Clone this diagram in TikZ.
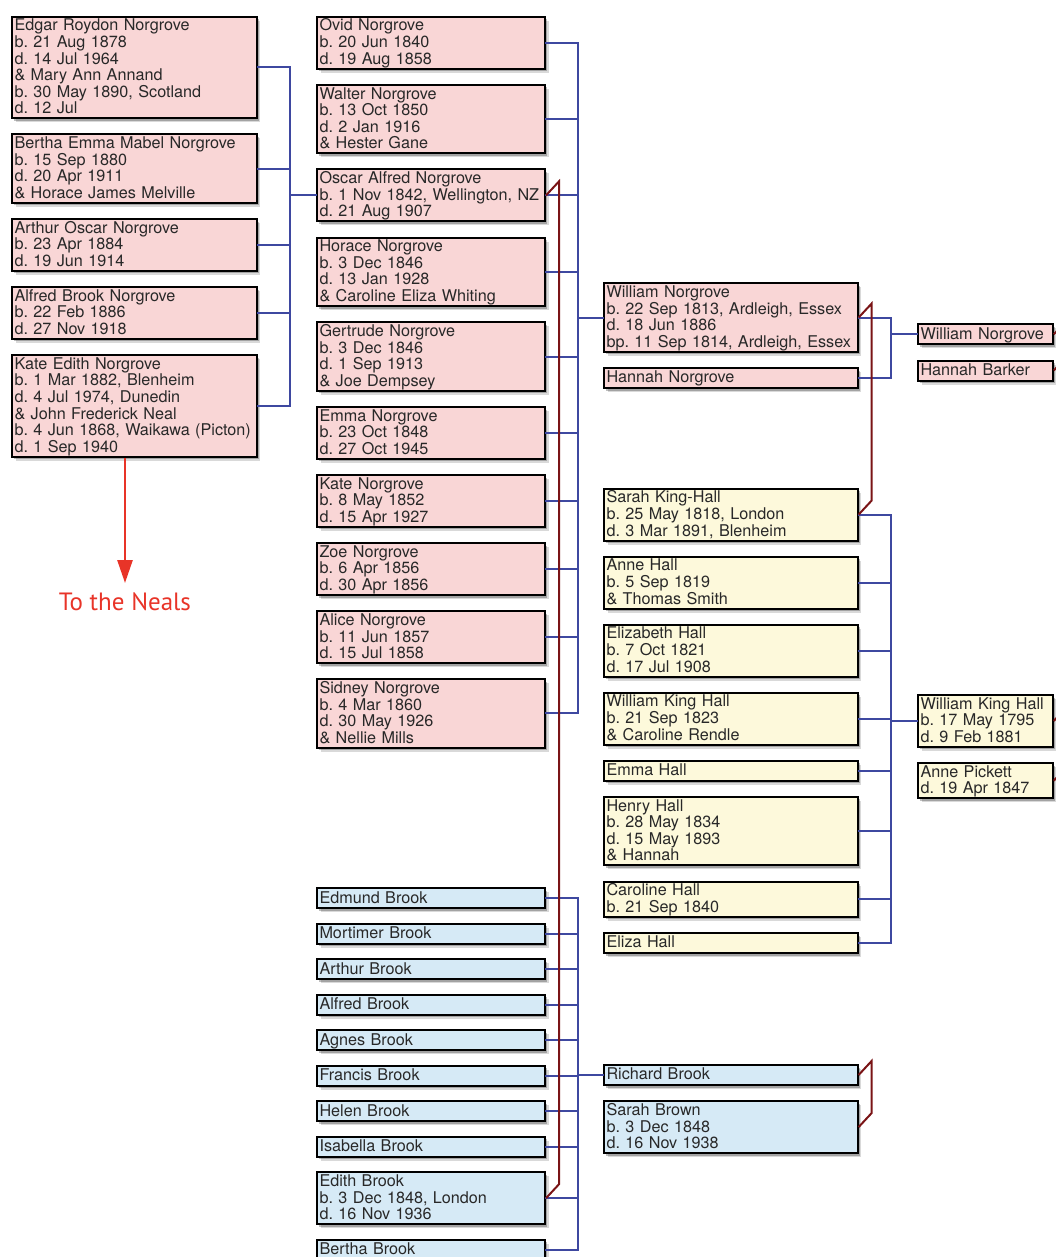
\documentclass[tikz,border=0pt]{standalone}
\usepackage{fontspec}
\setmainfont{TeX Gyre Heros}
\newfontfamily\nealsfont{PT Sans}
\usetikzlibrary{positioning, shadows, arrows.meta}
\frenchspacing
\hyphenpenalty=10000
\exhyphenpenalty=10000

\definecolor{ink}{RGB}{40,40,40}
\definecolor{pinkbox}{RGB}{249,214,214}
\definecolor{creambox}{RGB}{253,249,219}
\definecolor{skybox}{RGB}{214,234,246}
\definecolor{kinblue}{RGB}{62,72,160}
\definecolor{spousered}{RGB}{122,20,22}
\definecolor{nealsred}{RGB}{232,52,40}

\newcommand{\topstrut}{\rule{0pt}{13.2pt}}
\newcommand{\bottomstrut}{\rule[-3.4pt]{0pt}{3.4pt}}

\tikzstyle{Person} = [
draw=black, line width=2pt, text=ink, align=left,
inner xsep=2.5pt, inner ysep=1pt, minimum height=20pt,
font=\fontsize{16.2}{16.6}\selectfont,
execute at begin node=\topstrut, execute at end node=\bottomstrut,
drop shadow={shadow xshift=3.5pt, shadow yshift=-4pt, opacity=.15, fill=black},
drop shadow={shadow xshift=2pt, shadow yshift=-2.5pt, opacity=.25, fill=black}]
\tikzstyle{Pink} = [fill=pinkbox]
\tikzstyle{Cream} = [fill=creambox]
\tikzstyle{Sky} = [fill=skybox]
\tikzstyle{ColOne} = [text width=239.7pt]
\tikzstyle{ColTwo} = [text width=223pt]
\tikzstyle{ColThree} = [text width=248.6pt]
\tikzstyle{ColFour} = [text width=129.8pt]
\tikzstyle{Kin} = [draw=kinblue, line width=2pt, line cap=rect]
\tikzstyle{Spouse} = [draw=spousered, line width=2pt]
\tikzstyle{Neals} = [text=nealsred, font=\nealsfont\fontsize{25}{30}\selectfont,
anchor=base, inner sep=9pt]
\tikzstyle{ToNeals} = [draw=nealsred, line width=2.6pt,
-{Triangle[length=23pt, width=15pt]}]

\begin{document}
\begin{tikzpicture}[x=1pt, y=-1pt, node distance=14.2pt]
    \useasboundingbox (0,0) rectangle (1056,1257);
    % grandchildren
    \node [Person, Pink, ColOne, anchor=north west] (edgar) at (11,15.7) {Edgar Roydon Norgrove\\b. 21 Aug 1878\\d. 14 Jul 1964\\\& Mary Ann Annand\\b. 30 May 1890, Scotland\\d. 12 Jul};
    \node [Person, Pink, ColOne, below =of edgar] (bertha) {Bertha Emma Mabel Norgrove\\b. 15 Sep 1880\\d. 20 Apr 1911\\\& Horace James Melville};
    \node [Person, Pink, ColOne, below =of bertha] (arthur) {Arthur Oscar Norgrove\\b. 23 Apr 1884\\d. 19 Jun 1914};
    \node [Person, Pink, ColOne, below =of arthur] (alfred) {Alfred Brook Norgrove\\b. 22 Feb 1886\\d. 27 Nov 1918};
    \node [Person, Pink, ColOne, below =of alfred] (kateedith) {Kate Edith Norgrove\\b. 1 Mar 1882, Blenheim\\d. 4 Jul 1974, Dunedin\\\& John Frederick Neal\\b. 4 Jun 1868, Waikawa (Picton)\\d. 1 Sep 1940};
    \node [Neals] (neals) at (125,610) {To the Neals};
    % Norgrove children
    \node [Person, Pink, ColTwo, anchor=north west] (ovid) at (316,15.7) {Ovid Norgrove\\b. 20 Jun 1840\\d. 19 Aug 1858};
    \node [Person, Pink, ColTwo, below =of ovid] (walter) {Walter Norgrove\\b. 13 Oct 1850\\d. 2 Jan 1916\\\& Hester Gane};
    \node [Person, Pink, ColTwo, below =of walter] (oscar) {Oscar Alfred Norgrove\\b. 1 Nov 1842, Wellington, NZ\\d. 21 Aug 1907};
    \node [Person, Pink, ColTwo, below =of oscar] (horace) {Horace Norgrove\\b. 3 Dec 1846\\d. 13 Jan 1928\\\& Caroline Eliza Whiting};
    \node [Person, Pink, ColTwo, below =of horace] (gertrude) {Gertrude Norgrove\\b. 3 Dec 1846\\d. 1 Sep 1913\\\& Joe Dempsey};
    \node [Person, Pink, ColTwo, below =of gertrude] (emma) {Emma Norgrove\\b. 23 Oct 1848\\d. 27 Oct 1945};
    \node [Person, Pink, ColTwo, below =of emma] (kate) {Kate Norgrove\\b. 8 May 1852\\d. 15 Apr 1927};
    \node [Person, Pink, ColTwo, below =of kate] (zoe) {Zoe Norgrove\\b. 6 Apr 1856\\d. 30 Apr 1856};
    \node [Person, Pink, ColTwo, below =of zoe] (alice) {Alice Norgrove\\b. 11 Jun 1857\\d. 15 Jul 1858};
    \node [Person, Pink, ColTwo, below =of alice] (sidney) {Sidney Norgrove\\b. 4 Mar 1860\\d. 30 May 1926\\\& Nellie Mills};
    % Brook children
    \node [Person, Sky, ColTwo, anchor=north west] (edmund) at (316,887.3) {Edmund Brook};
    \node [Person, Sky, ColTwo, below =13.5pt of edmund] (mortimer) {Mortimer Brook};
    \node [Person, Sky, ColTwo, below =13.5pt of mortimer] (arthurb) {Arthur Brook};
    \node [Person, Sky, ColTwo, below =13.5pt of arthurb] (alfredb) {Alfred Brook};
    \node [Person, Sky, ColTwo, below =13.5pt of alfredb] (agnes) {Agnes Brook};
    \node [Person, Sky, ColTwo, below =13.5pt of agnes] (francis) {Francis Brook};
    \node [Person, Sky, ColTwo, below =13.5pt of francis] (helen) {Helen Brook};
    \node [Person, Sky, ColTwo, below =13.5pt of helen] (isabella) {Isabella Brook};
    \node [Person, Sky, ColTwo, below =13.5pt of isabella] (edith) {Edith Brook\\b. 3 Dec 1848, London\\d. 16 Nov 1936};
    \node [Person, Sky, ColTwo, below =13.5pt of edith] (berthab) {Bertha Brook};
    % parents
    \node [Person, Pink, ColThree, anchor=north west] (william) at (603,282.3) {William Norgrove\\b. 22 Sep 1813, Ardleigh, Essex\\d. 18 Jun 1886\\bp. 11 Sep 1814, Ardleigh, Essex};
    \node [Person, Pink, ColThree, below =of william] (hannahn) {Hannah Norgrove};
    \node [Person, Cream, ColThree, anchor=north west] (sarah) at (603,487.7) {Sarah King-Hall\\b. 25 May 1818, London\\d. 3 Mar 1891, Blenheim};
    \node [Person, Cream, ColThree, below =of sarah] (anne) {Anne Hall\\b. 5 Sep 1819\\\& Thomas Smith};
    \node [Person, Cream, ColThree, below =of anne] (elizabeth) {Elizabeth Hall\\b. 7 Oct 1821\\d. 17 Jul 1908};
    \node [Person, Cream, ColThree, below =of elizabeth] (wkhall) {William King Hall\\b. 21 Sep 1823\\\& Caroline Rendle};
    \node [Person, Cream, ColThree, below =of wkhall] (emmah) {Emma Hall};
    \node [Person, Cream, ColThree, below =of emmah] (henry) {Henry Hall\\b. 28 May 1834\\d. 15 May 1893\\\& Hannah};
    \node [Person, Cream, ColThree, below =of henry] (caroline) {Caroline Hall\\b. 21 Sep 1840};
    \node [Person, Cream, ColThree, below =of caroline] (eliza) {Eliza Hall};
    \node [Person, Sky, ColThree, anchor=north west] (richard) at (603,1064) {Richard Brook};
    \node [Person, Sky, ColThree, below =of richard] (sarahb) {Sarah Brown\\b. 3 Dec 1848\\d. 16 Nov 1938};
    % grandparents
    \node [Person, Pink, ColFour, anchor=north west] (williamsr) at (917,323.3) {William Norgrove};
    \node [Person, Pink, ColFour, below =of williamsr] (hannahb) {Hannah Barker};
    \node [Person, Cream, ColFour, anchor=north west] (wkhallsr) at (917,694) {William King Hall\\b. 17 May 1795\\d. 9 Feb 1881};
    \node [Person, Cream, ColFour, below =of wkhallsr] (annep) {Anne Pickett\\d. 19 Apr 1847};
    \coordinate (busA) at (290,0);
    \coordinate (busB) at (578,0);
    \coordinate (busC) at (891,0);
    % Oscar's children
    \draw[Kin] (edgar) -- (edgar -| busA);
    \draw[Kin] (bertha) -- (bertha -| busA);
    \draw[Kin] (arthur) -- (arthur -| busA);
    \draw[Kin] (alfred) -- (alfred -| busA);
    \draw[Kin] (kateedith) -- (kateedith -| busA);
    \draw[Kin] (busA |- edgar) -- (busA |- kateedith);
    \draw[Kin] (busA |- oscar) -- (oscar);
    % William's children
    \draw[Kin] (ovid) -- (ovid -| busB);
    \draw[Kin] (walter) -- (walter -| busB);
    \draw[Kin] (oscar) -- (oscar -| busB);
    \draw[Kin] (horace) -- (horace -| busB);
    \draw[Kin] (gertrude) -- (gertrude -| busB);
    \draw[Kin] (emma) -- (emma -| busB);
    \draw[Kin] (kate) -- (kate -| busB);
    \draw[Kin] (zoe) -- (zoe -| busB);
    \draw[Kin] (alice) -- (alice -| busB);
    \draw[Kin] (sidney) -- (sidney -| busB);
    \draw[Kin] (busB |- ovid) -- (busB |- sidney);
    \draw[Kin] (busB |- william) -- (william);
    % Richard's children
    \draw[Kin] (edmund) -- (edmund -| busB);
    \draw[Kin] (mortimer) -- (mortimer -| busB);
    \draw[Kin] (arthurb) -- (arthurb -| busB);
    \draw[Kin] (alfredb) -- (alfredb -| busB);
    \draw[Kin] (agnes) -- (agnes -| busB);
    \draw[Kin] (francis) -- (francis -| busB);
    \draw[Kin] (helen) -- (helen -| busB);
    \draw[Kin] (isabella) -- (isabella -| busB);
    \draw[Kin] (edith) -- (edith -| busB);
    \draw[Kin] (berthab) -- (berthab -| busB);
    \draw[Kin] (busB |- edmund) -- (busB |- berthab);
    \draw[Kin] (busB |- richard) -- (richard);
    % older generation
    \draw[Kin] (william) -- (william -| busC);
    \draw[Kin] (hannahn) -- (hannahn -| busC);
    \draw[Kin] (busC |- william) -- (busC |- hannahn);
    \draw[Kin] (busC |- williamsr) -- (williamsr);
    \draw[Kin] (sarah) -- (sarah -| busC);
    \draw[Kin] (anne) -- (anne -| busC);
    \draw[Kin] (elizabeth) -- (elizabeth -| busC);
    \draw[Kin] (wkhall) -- (wkhall -| busC);
    \draw[Kin] (emmah) -- (emmah -| busC);
    \draw[Kin] (henry) -- (henry -| busC);
    \draw[Kin] (caroline) -- (caroline -| busC);
    \draw[Kin] (eliza) -- (eliza -| busC);
    \draw[Kin] (busC |- sarah) -- (busC |- eliza);
    \draw[Kin] (busC |- wkhallsr) -- (wkhallsr);
    % marriages
    \draw[Spouse] (oscar.east) -- ++(13,-14) -- ([shift={(13,-14)}]edith.east) -- (edith.east);
    \draw[Spouse] (william.east) -- ++(13,-14) -- ([shift={(13,-14)}]sarah.east) -- (sarah.east);
    \draw[Spouse] (richard.east) -- ++(13,-14) -- ([shift={(13,-14)}]sarahb.east) -- (sarahb.east);
    \draw[Spouse] (williamsr.east) -- ++(13,-14) -- ([shift={(13,-14)}]hannahb.east) -- (hannahb.east);
    \draw[Spouse] (wkhallsr.east) -- ++(13,-14) -- ([shift={(13,-14)}]annep.east) -- (annep.east);
    \draw[ToNeals] (kateedith.south -| neals) -- (neals);
\end{tikzpicture}
\end{document}
